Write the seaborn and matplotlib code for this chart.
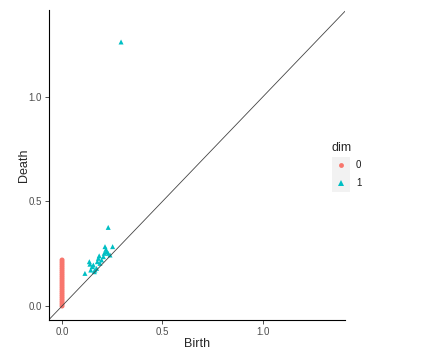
import pandas as pd
import seaborn as sns
import matplotlib.pyplot as plt
from matplotlib.patches import Rectangle

# persistence diagram values
birth0 = [0.0] * 23
death0 = [0.0, 0.01, 0.02, 0.03, 0.04, 0.05, 0.06, 0.07, 0.08, 0.09, 0.10, 0.11,
          0.12, 0.13, 0.14, 0.15, 0.16, 0.17, 0.18, 0.19, 0.20, 0.21, 0.22]

birth1 = [0.294, 0.230, 0.214, 0.252, 0.114, 0.136, 0.139, 0.156, 0.143, 0.164,
          0.161, 0.172, 0.181, 0.176, 0.189, 0.197, 0.206, 0.210, 0.222, 0.230,
          0.239, 0.219, 0.150, 0.185]
death1 = [1.263, 0.376, 0.284, 0.284, 0.156, 0.212, 0.200, 0.196, 0.172, 0.172,
          0.164, 0.180, 0.228, 0.212, 0.204, 0.220, 0.236, 0.252, 0.260, 0.252,
          0.244, 0.271, 0.188, 0.240]

df = pd.DataFrame({
    'Birth': birth0 + birth1,
    'Death': death0 + death1,
    'dim': ['0'] * len(birth0) + ['1'] * len(birth1),
})

sns.set_style("white")
plt.rcParams['font.family'] = ['Liberation Sans', 'DejaVu Sans']

fig = plt.figure(figsize=(4.21, 3.56), dpi=100)
ax = fig.add_axes([0.1164, 0.1011, 0.7031, 0.8708])

pal = {'0': '#F8766D', '1': '#00BFC4'}
sns.scatterplot(data=df, x='Birth', y='Death', hue='dim', style='dim',
                markers={'0': 'o', '1': '^'}, palette=pal, s=13,
                linewidth=0, legend=False, ax=ax)
ax.axline((0, 0), slope=1, color='#444444', lw=0.6)

ax.set_xlim(-0.065, 1.41)
ax.set_ylim(-0.067, 1.416)
ax.set_xticks([0, 0.5, 1.0])
ax.set_xticklabels(['0.0', '0.5', '1.0'])
ax.set_yticks([0, 0.5, 1.0])
ax.set_yticklabels(['0.0', '0.5', '1.0'])
ax.tick_params(axis='both', length=3, width=0.6, color='#333333',
               labelsize=7, labelcolor='#4d4d4d', pad=2, direction='out')
ax.tick_params(bottom=True, left=True)
for side in ['top', 'right']:
    ax.spines[side].set_visible(False)
for side in ['left', 'bottom']:
    ax.spines[side].set_color('black')
    ax.spines[side].set_linewidth(0.8)
ax.set_xlabel('Birth', fontsize=9, labelpad=1)
ax.set_ylabel('Death', fontsize=9, labelpad=-1)

# legend drawn like ggplot's
fig.text(331 / 421, 1 - 148 / 356, 'dim', fontsize=9, va='center', ha='left')
fig.add_artist(Rectangle((332 / 421, 1 - 192 / 356), 18 / 421, 35 / 356,
                         transform=fig.transFigure, color='#f2f2f2', lw=0))
fig.add_artist(plt.Line2D([341 / 421], [1 - 165 / 356], marker='o', ms=3.5,
                          color=pal['0'], mew=0, transform=fig.transFigure))
fig.add_artist(plt.Line2D([341 / 421], [1 - 183 / 356], marker='^', ms=4,
                          color=pal['1'], mew=0, transform=fig.transFigure))
fig.text(356 / 421, 1 - 165 / 356, '0', fontsize=7, va='center', color='#1a1a1a')
fig.text(356 / 421, 1 - 183 / 356, '1', fontsize=7, va='center', color='#1a1a1a')

plt.savefig('out.png', dpi=100)
